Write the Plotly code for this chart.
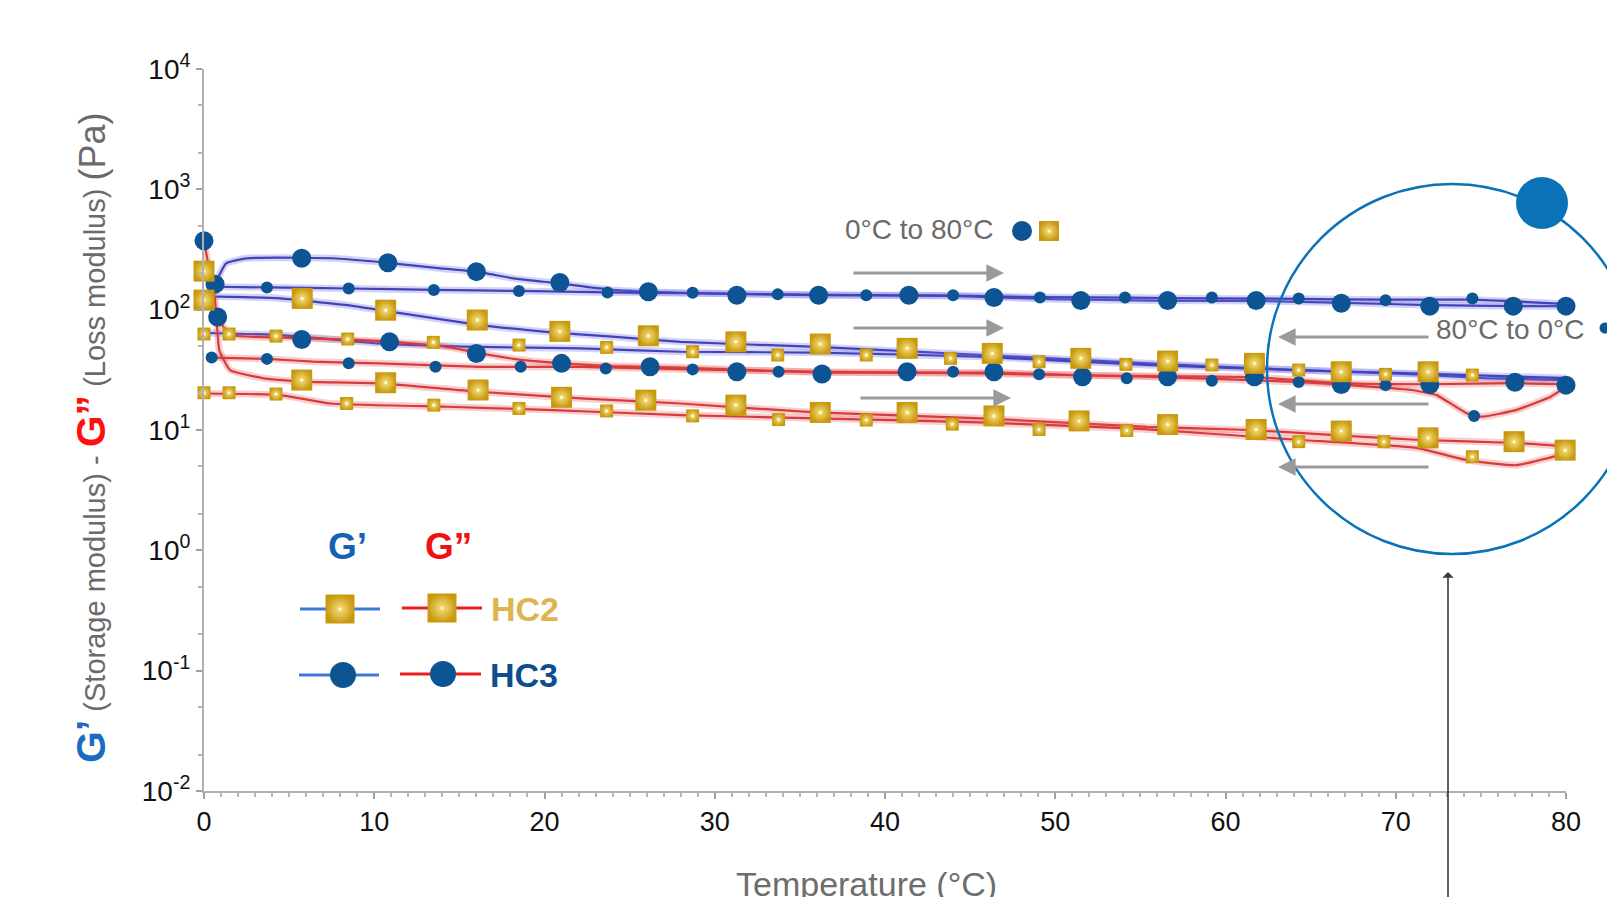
import plotly.graph_objects as go

# ---------------- data ----------------
# Markers: large = heating (0 -> 80 °C), small = cooling (80 -> 0 °C)
hc3_gp_heat_t = [0, 0.65, 5.74, 10.8, 16.0, 20.9, 26.1, 31.3, 36.1, 41.4, 46.4, 51.5, 56.6, 61.8, 66.8, 72.0, 76.9, 80.0]
hc3_gp_heat_v = [374, 163, 267, 245, 207, 168, 141, 132, 132, 132, 126, 119, 119, 119, 113, 107, 107, 107]
hc3_gp_cool_t = [3.7, 8.5, 13.5, 18.5, 23.7, 28.7, 33.7, 38.9, 44.0, 49.1, 54.1, 59.2, 64.3, 69.4, 74.5]
hc3_gp_cool_v = [153, 150, 146, 143, 139, 138, 134, 132, 132, 126, 126, 126, 124, 120, 124]

hc3_gpp_heat_t = [0.8, 5.74, 10.9, 16.0, 21.0, 26.2, 31.3, 36.3, 41.3, 46.4, 51.6, 56.6, 61.7, 66.8, 72.0, 77.0, 80.0]
hc3_gpp_heat_v = [87, 56.6, 54, 43.3, 35.8, 33.5, 30.5, 29.2, 30.5, 30.5, 27.7, 27.7, 27.7, 23.9, 23.9, 24.9, 23.6]
hc3_gpp_cool_t = [0.45, 3.7, 8.5, 13.6, 18.6, 23.6, 28.7, 33.75, 44.0, 49.05, 54.2, 59.2, 64.3, 69.4, 74.6]
hc3_gpp_cool_v = [40, 39, 35.8, 33.5, 33.5, 32.5, 31.9, 30.5, 30.5, 29, 26.9, 25.7, 25.1, 23.6, 13.1]

hc2_gp_heat_t = [0, 5.77, 10.67, 16.05, 20.9, 26.1, 31.24, 36.2, 41.3, 46.3, 51.5, 56.6, 61.7, 66.8, 71.9, 80.1]
hc2_gp_heat_v = [120, 124, 99, 82, 66, 60.7, 54, 51.8, 47.7, 43.3, 39.4, 37.4, 35.8, 30.5, 30.5, 28]
hc2_gp_cool_t = [0, 1.47, 4.23, 8.44, 13.47, 18.5, 23.65, 28.7, 33.7, 38.9, 43.85, 49.05, 54.15, 59.2, 64.3, 69.4, 74.5]
hc2_gp_cool_v = [62.7, 62.7, 60.3, 57, 53.5, 50.8, 48.6, 44.7, 42, 42, 39.4, 36.9, 35.1, 34.7, 31.5, 29, 28.6]

hc2_gpp_heat_t = [0, 5.74, 10.67, 16.1, 21.0, 25.95, 31.24, 36.2, 41.3, 46.4, 51.4, 56.6, 61.8, 66.8, 71.9, 76.95, 79.95]
hc2_gpp_heat_v = [209, 26, 24.7, 21.5, 18.7, 17.7, 16.1, 14.0, 14.0, 13.1, 11.9, 11.1, 10.1, 9.8, 8.6, 8.0, 6.8]
hc2_gpp_cool_t = [0, 1.47, 4.23, 8.38, 13.5, 18.5, 23.65, 28.7, 33.75, 38.9, 43.95, 49.05, 54.2, 64.3, 69.3, 74.5]
hc2_gpp_cool_v = [20.4, 20.4, 19.9, 16.6, 16.1, 15.1, 14.4, 13.1, 12.2, 12.1, 11.2, 10.1, 9.9, 8.0, 8.0, 6.0]

# Measured curves (continuous lines)
l_hc3_gp_heat_t = [0.65, 1.3, 2.5, 5.7, 8.0, 10.8, 13.9, 16.0, 18.2, 20.9, 24.0, 28.0, 36, 44, 50, 56, 62, 67, 72, 77, 80]
l_hc3_gp_heat_v = [163, 243, 267, 270, 265, 245, 220, 207, 182, 165, 146, 138, 132, 130, 122, 119, 118, 114, 109, 107, 107]
l_hc3_gp_cool_t = [0.65, 3.7, 8.5, 13.5, 18.5, 23.7, 28.7, 33.7, 38.9, 44, 49, 54, 59, 64.3, 69.4, 74.5, 80]
l_hc3_gp_cool_v = [155, 153, 150, 146, 143, 139, 137, 134, 132, 131, 127, 126, 124, 123, 121, 121, 112]
l_hc2_gp_heat_t = [0, 0.55, 4.5, 8.4, 12.3, 16.2, 20.1, 24, 28, 36, 45.7, 55.4, 64.2, 71.2, 75.1, 80]
l_hc2_gp_heat_v = [120, 128, 124, 109, 90, 74.5, 65.5, 59.6, 54, 49, 42, 35.8, 31.5, 29, 27, 26]
l_hc2_gp_cool_t = [0, 4.5, 10.3, 16.2, 22.1, 28, 35.9, 45.7, 55.4, 64.2, 71, 80]
l_hc2_gp_cool_v = [64, 61.5, 52.5, 49, 47.7, 44.7, 44, 40.6, 34.7, 31.5, 29.5, 27]

l_hc3_gpp_heat_t = [0.8, 1.5, 5.7, 10.3, 13.9, 16, 18.2, 21, 24, 28, 36.3, 46.4, 51.6, 56.6, 61.7, 66.8, 72, 77, 80]
l_hc3_gpp_heat_v = [87, 62, 58, 55, 50, 44, 39, 35.8, 34, 33, 30, 30, 28.5, 28, 27.5, 24.5, 24, 24.5, 24]
l_hc3_gpp_cool_t = [0.45, 3.7, 6.4, 10.3, 16.2, 22.1, 28, 35.9, 45.7, 55.4, 64.2, 67.3, 70.9, 72.4, 74.2, 75.1, 77.1, 79.1, 80]
l_hc3_gpp_cool_v = [40, 39, 37, 35.8, 33.5, 33.5, 32, 30.5, 29.5, 27.7, 25.1, 23.6, 21.5, 19.5, 13.7, 12.9, 14.7, 18.9, 22.9]
l_hc2_gpp_heat_t = [0, 0.35, 0.65, 0.9, 1.53, 3.5, 5.74, 10.3, 16.2, 22.1, 28, 35.9, 45.7, 55.4, 61.4, 67.3, 71.2, 77.1, 80]
l_hc2_gpp_heat_v = [374, 200, 120, 46, 31.5, 26.9, 25.2, 24.4, 20.8, 18.3, 16.6, 14.0, 12.5, 10.6, 10.0, 8.9, 8.3, 7.8, 7.3]
l_hc2_gpp_cool_t = [0, 4.5, 7.4, 14.3, 20.1, 28, 36, 46, 55, 64.2, 71.2, 74.2, 77.1, 80]
l_hc2_gpp_cool_v = [20.1, 19.5, 16.6, 15.6, 14.7, 13.3, 12.5, 11.5, 10.2, 8.3, 7.1, 5.6, 5.1, 6.4]

y_tick_vals = [0.01, 0.1, 1, 10, 100, 1000, 10000]
y_tick_text = ["10<sup>-2</sup>", "10<sup>-1</sup>", "10<sup>0</sup>", "10<sup>1</sup>",
               "10<sup>2</sup>", "10<sup>3</sup>", "10<sup>4</sup>"]
x_tick_vals = [0, 10, 20, 30, 40, 50, 60, 70, 80]

# ---------------- styles ----------------
FONT = "Liberation Sans, Arial, sans-serif"
BLUE_CORE, BLUE_HALO = "#4343b8", "rgba(110,110,230,0.30)"
RED_CORE, RED_HALO = "#d63c3c", "rgba(235,80,80,0.28)"
CIRCLE = "#0d5494"
GOLD, GOLD_C = "#c8980f", "#f7e27c"
GRAY_ARROW = "#9a9a9a"
RING = "#0a72b6"

# plot area on the page (page pixels); the browser adds an 8px body margin
PX_L, PX_R, PX_T, PX_B = 204, 1566, 69, 791
BODY = 8


def pxx(p):
    return (p - PX_L) / (PX_R - PX_L)


def pxy(p):
    return (PX_B - p) / (PX_B - PX_T)


fig = go.Figure()


def add_line(t, v, core, halo):
    fig.add_trace(go.Scatter(x=t, y=v, mode="lines", line=dict(color=halo, width=7, shape="spline", smoothing=0.4),
                             hoverinfo="skip", showlegend=False))
    fig.add_trace(go.Scatter(x=t, y=v, mode="lines", line=dict(color=core, width=2.2, shape="spline", smoothing=0.4),
                             hoverinfo="skip", showlegend=False))


for t, v in [(l_hc3_gp_heat_t, l_hc3_gp_heat_v), (l_hc3_gp_cool_t, l_hc3_gp_cool_v),
             (l_hc2_gp_heat_t, l_hc2_gp_heat_v), (l_hc2_gp_cool_t, l_hc2_gp_cool_v)]:
    add_line(t, v, BLUE_CORE, BLUE_HALO)
for t, v in [(l_hc3_gpp_heat_t, l_hc3_gpp_heat_v), (l_hc3_gpp_cool_t, l_hc3_gpp_cool_v),
             (l_hc2_gpp_heat_t, l_hc2_gpp_heat_v), (l_hc2_gpp_cool_t, l_hc2_gpp_cool_v)]:
    add_line(t, v, RED_CORE, RED_HALO)


def add_circles(t, v, size, xa="x", ya="y"):
    fig.add_trace(go.Scatter(x=t, y=v, mode="markers", cliponaxis=False, showlegend=False, xaxis=xa, yaxis=ya,
                             marker=dict(symbol="circle", size=size, color=CIRCLE, line=dict(width=0))))


def add_squares(t, v, size, xa="x", ya="y"):
    fig.add_trace(go.Scatter(x=t, y=v, mode="markers", cliponaxis=False, showlegend=False, xaxis=xa, yaxis=ya,
                             marker=dict(symbol="square", size=size, color=GOLD, line=dict(width=0),
                                         gradient=dict(type="radial", color=GOLD_C))))
    fig.add_trace(go.Scatter(x=t, y=v, mode="markers", cliponaxis=False, showlegend=False, xaxis=xa, yaxis=ya,
                             marker=dict(symbol="circle", size=3, color="rgba(255,255,255,0.9)")))


add_circles(hc3_gp_heat_t, hc3_gp_heat_v, 19)
add_circles(hc3_gp_cool_t, hc3_gp_cool_v, 12)
add_circles(hc3_gpp_heat_t, hc3_gpp_heat_v, 19)
add_circles(hc3_gpp_cool_t, hc3_gpp_cool_v, 12)
add_squares(hc2_gp_heat_t, hc2_gp_heat_v, 21)
add_squares(hc2_gp_cool_t, hc2_gp_cool_v, 13)
add_squares(hc2_gpp_heat_t, hc2_gpp_heat_v, 21)
add_squares(hc2_gpp_cool_t, hc2_gpp_cool_v, 13)

# ---------------- legend keys / decorations on a pixel overlay ----------------
key_line_blue = dict(color="#3b79d6", width=3)
key_line_red = dict(color="#ee1c1c", width=3)
for xs, y, ln in [([300, 380], 609, key_line_blue), ([402, 482], 608, key_line_red),
                  ([299, 379], 675, key_line_blue), ([400, 481], 674, key_line_red)]:
    fig.add_trace(go.Scatter(x=xs, y=[y, y], mode="lines", line=ln, xaxis="x2", yaxis="y2",
                             showlegend=False, hoverinfo="skip"))
add_squares([340, 442], [609, 608], 29, "x2", "y2")
add_circles([343, 443], [675, 674], 26, "x2", "y2")
add_squares([1049], [231], 20, "x2", "y2")

annotations = []


def txt(x, y, text, size, color, xanchor="left", bold=False):
    annotations.append(dict(x=pxx(x), y=pxy(y), xref="paper", yref="paper",
                            text=("<b>%s</b>" % text) if bold else text,
                            showarrow=False, xanchor=xanchor, yanchor="middle",
                            font=dict(family=FONT, size=size, color=color)))


txt(347, 546, "G’", 37, "#1462b4", "center", True)
txt(448, 546, "G”", 37, "#f01010", "center", True)
txt(489, 609, "HC2", 34, "#dcb64c", "left", True)
txt(488, 675, "HC3", 34, "#0f4e8e", "left", True)
txt(843, 229, "0°C to 80°C", 28, "#6a6a6a")
txt(1434, 329, "80°C to 0°C", 28, "#6a6a6a")
txt(866, 884, "Temperature (°C)", 34, "#6d6d6d", "center")


def arrow(x0, x1, y, color=GRAY_ARROW, width=3.2):
    annotations.append(dict(x=x1, y=y, ax=x0, ay=y, xref="x2", yref="y2", axref="x2", ayref="y2",
                            text="", showarrow=True, arrowhead=2, arrowsize=1.1, arrowwidth=width,
                            arrowcolor=color))


arrow(852, 1004, 273)
arrow(852, 1004, 328)
arrow(859, 1011, 398)
arrow(1430, 1278, 337)
arrow(1430, 1278, 404)
arrow(1430, 1278, 467)
annotations.append(dict(x=1448, y=572, ax=1448, ay=905, xref="x2", yref="y2", axref="x2", ayref="y2",
                        text="", showarrow=True, arrowhead=1, arrowsize=1.2, arrowwidth=1.6, arrowcolor="#3a3a3a"))

# y-axis title (multi-coloured)
ytitle = ('<b><span style="color:#1a6cc0;font-size:41px">G’</span></b>'
          '<span style="color:#6a6a6a;font-size:29px"> (Storage modulus) - </span>'
          '<b><span style="color:#ff1010;font-size:41px">G”</span></b>'
          '<span style="color:#6a6a6a;font-size:29px"> (Loss modulus) </span>'
          '<span style="color:#6a6a6a;font-size:36px">(Pa)</span>')
annotations.append(dict(x=pxx(91), y=pxy(438), xref="paper", yref="paper", text=ytitle,
                        textangle=-90, showarrow=False, xanchor="center", yanchor="middle",
                        font=dict(family=FONT, size=29, color="#6a6a6a")))


def circle_px(cx, cy, r, **kw):
    return dict(type="circle", xref="paper", yref="paper", x0=pxx(cx - r), x1=pxx(cx + r),
                y0=pxy(cy + r), y1=pxy(cy - r), layer="above", **kw)


shapes = [
    circle_px(1452, 369, 185, line=dict(color=RING, width=2.5)),
    circle_px(1542, 203, 26, line=dict(width=0), fillcolor=RING),
    circle_px(1022, 231, 10, line=dict(width=0), fillcolor=CIRCLE),
    circle_px(1605, 328, 5.5, line=dict(width=0), fillcolor=CIRCLE),
]

axis_common = dict(showgrid=False, zeroline=False, showline=True, linecolor="#b0b0b0", linewidth=2,
                   ticks="outside", tickcolor="#a0a0a0", ticklen=6, tickwidth=1.5)

fig.update_layout(
    width=1615, height=897,
    margin=dict(l=PX_L - BODY, r=1615 - PX_R + BODY, t=PX_T - BODY, b=897 - PX_B + BODY),
    paper_bgcolor="white", plot_bgcolor="white",
    showlegend=False,
    xaxis=dict(range=[0, 80], tickvals=x_tick_vals, **axis_common,
               tickfont=dict(family=FONT, size=27, color="#111111"),
               minor=dict(dtick=1, ticks="outside", ticklen=4, tickcolor="#b5b5b5")),
    yaxis=dict(type="log", range=[-2, 4], tickvals=y_tick_vals, ticktext=y_tick_text, **axis_common,
               tickfont=dict(family=FONT, size=28, color="#111111"),
               minor=dict(ticks="outside", ticklen=4, tickcolor="#b5b5b5")),
    xaxis2=dict(range=[PX_L, PX_R], overlaying="x", anchor="y2", visible=False),
    yaxis2=dict(range=[PX_B, PX_T], overlaying="y", anchor="x2", visible=False),
    annotations=annotations,
    shapes=shapes,
)

fig.write_html("out.html")
